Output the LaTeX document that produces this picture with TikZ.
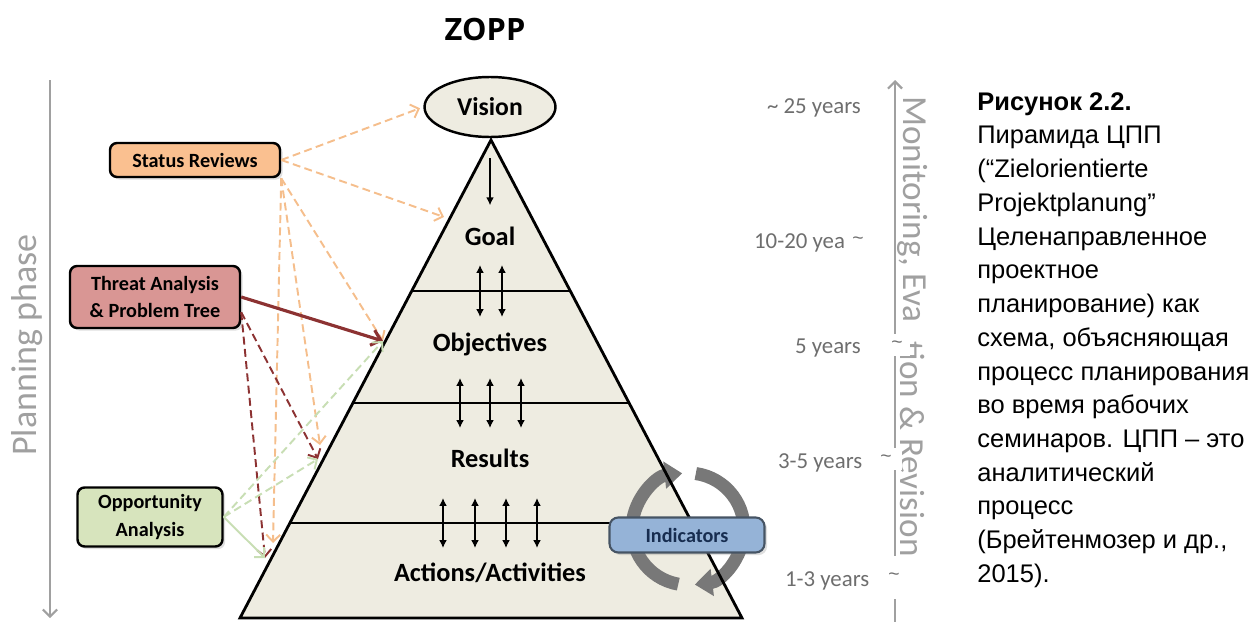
\documentclass[tikz,border=0pt]{standalone}
\usepackage{fontspec}
\setmainfont{Carlito}
\newfontfamily\capfont{Liberation Sans}
\newfontfamily\titlefont{Open Sans}
\usepackage{tikz}
\usetikzlibrary{arrows.meta,calc,shapes.geometric,shadows}

\definecolor{pyrfill}{RGB}{238,236,225}
\definecolor{srfill}{RGB}{250,192,144}
\definecolor{tpfill}{RGB}{217,150,148}
\definecolor{oafill}{RGB}{215,228,189}
\definecolor{indfill}{RGB}{149,179,215}
\definecolor{indline}{RGB}{70,84,100}
\definecolor{indtext}{RGB}{23,45,80}
\definecolor{srline}{RGB}{245,190,140}
\definecolor{tpline}{RGB}{140,50,50}
\definecolor{oaline}{RGB}{200,222,180}
\definecolor{phasegray}{RGB}{160,160,160}
\definecolor{yeargray}{RGB}{110,110,110}
\definecolor{cyc}{RGB}{120,120,120}

\tikzset{
	phasebox/.style={draw=black, line width=1.4pt, rounded corners=4pt, align=center,
		font=\bfseries\fontsize{11.5}{15.5}\selectfont,
		drop shadow={opacity=0.25, shadow xshift=1.5pt, shadow yshift=-1.5pt}},
	level/.style={anchor=base, font=\bfseries\fontsize{15}{16}\selectfont},
	years/.style={text=yeargray, inner sep=1pt, font=\fontsize{13}{15}\selectfont},
	tilde/.style={years, fill=white, inner sep=0pt, font=\capfont\fontsize{11}{13}\selectfont},
	link/.style={line width=1.1pt, dash pattern=on 4.5pt off 2.5pt, -{Straight Barb[length=4pt,width=8pt]}},
	updown/.style={line width=1.2pt, {Latex[length=4.5pt,width=4.5pt]}-{Latex[length=4.5pt,width=4.5pt]}},
}

\begin{document}
\begin{tikzpicture}[x=0.02cm,y=-0.02cm]
	\useasboundingbox (0,0) rectangle (1255,622);

	\node[font=\titlefont\bfseries\fontsize{17.5}{20}\selectfont] (zopp) at (485,30) {ZOPP};

	\coordinate (apex) at (491,140);
	\coordinate (bl) at (240,618);
	\coordinate (br) at (742,618);
	\fill[pyrfill] (apex) -- (bl) -- (br) -- cycle;
	\foreach \y in {291,403,523} {
		\pgfmathsetmacro\lf{(\y-140)/478}
		\draw[line width=1.4pt] ($(apex)!\lf!(bl)$) -- ($(apex)!\lf!(br)$);
	}

	\draw[cyc, line width=7.4pt, -{Triangle[length=10pt,width=15pt]}] (688,529) ++(100:56) arc[start angle=100, end angle=264, radius=56];
	\draw[cyc, line width=7.4pt, -{Triangle[length=10pt,width=15pt]}] (688,529) ++(278:56) arc[start angle=278, end angle=443, radius=56];

	\draw[line width=1.6pt] (apex) -- (bl) -- (br) -- cycle;

	\node[ellipse, draw, fill=pyrfill, line width=1.4pt, minimum width=2.62cm, minimum height=1.2cm,
		font=\bfseries\fontsize{14.6}{16}\selectfont] (vision) at (490,107) {Vision};

	\node[level] (goal) at (490,245) {Goal};
	\node[level] (obj) at (490,351) {Objectives};
	\node[level] (res) at (490,467) {Results};
	\node[level] (act) at (490,581) {Actions/Activities};

	\draw[line width=1.2pt, -{Latex[length=4.5pt,width=4.5pt]}, shorten <=0.4cm, shorten >=0.3cm] (vision.south) -- (goal.north);
	\foreach \x in {480,502}
		\draw[updown] (\x,265) -- (\x,317);
	\foreach \x in {460,490,521}
		\draw[updown] (\x,378) -- (\x,428);
	\foreach \x in {443,475,506,537}
		\draw[updown] (\x,498) -- (\x,548);

	\node[draw=indline, fill=indfill, line width=1.2pt, rounded corners=5pt, minimum width=3.1cm, minimum height=0.7cm,
		text=indtext, font=\bfseries\fontsize{11.5}{13}\selectfont,
		drop shadow={opacity=0.25, shadow xshift=1.5pt, shadow yshift=-1.5pt}] (ind) at (687,535) {Indicators};

	\node[phasebox, fill=srfill, minimum width=3.4cm, minimum height=0.68cm] (sr) at (195,160) {Status Reviews};
	\node[phasebox, fill=tpfill, minimum width=3.4cm, minimum height=1.24cm] (tp) at (155,297) {Threat Analysis\\\& Problem Tree};
	\node[phasebox, fill=oafill, minimum width=2.9cm, minimum height=1.18cm] (oa) at (150,517) {Opportunity\\Analysis};

	\coordinate (goalL) at (444,217);
	\coordinate (objL) at (383,341);
	\coordinate (resA) at (320,445);
	\coordinate (resB) at (318,459);
	\coordinate (actA) at (273,543);
	\coordinate (actB) at (265,558);

	\draw[link, srline, shorten >=2pt] (sr.east) -- (vision.west);
	\draw[link, srline] (sr.east) -- (goalL);
	\foreach \tgt in {objL,resA,actA}
		\draw[link, srline] (sr.south east) -- (\tgt);
	\draw[tpline, line width=1.8pt, -{Straight Barb[length=5pt,width=9pt]}] (tp.east) -- (objL);
	\foreach \tgt in {resB,actB}
		\draw[link, tpline] (tp.-10) -- (\tgt);
	\foreach \tgt in {objL,resB}
		\draw[link, oaline] (oa.east) -- (\tgt);
	\draw[oaline, line width=1.1pt, -{Straight Barb[length=4pt,width=8pt]}] (oa.east) -- (actB);

	\coordinate (ptop) at (50,80);
	\coordinate (pbot) at (50,618);
	\draw[phasegray, line width=1.2pt, -{Straight Barb[length=4pt,width=8pt]}] (ptop) -- (pbot);
	\node[rotate=90, text=phasegray, font=\fontsize{20.5}{22}\selectfont] (plan) at (27,345) {Planning phase};

	\coordinate (mbot) at (895,622);
	\coordinate (mtop) at (895,80);
	\draw[phasegray, line width=1.3pt, -{Straight Barb[length=4pt,width=8pt]}] (mbot) -- (mtop);
	\node[rotate=-90, anchor=west, inner sep=0pt, text=phasegray, font=\fontsize{20}{22}\selectfont] (mon) at (913,96) {Monitoring, Eva};
	\node[rotate=-90, anchor=east, inner sep=0pt, text=phasegray, font=\fontsize{20}{22}\selectfont] (rev) at (913,557) {tion \& Revision};

	\node[years, anchor=base west] (y25) at (765,113) {\textasciitilde\ 25 years};
	\node[years, anchor=base west] (y1020) at (752,248) {10-20 yea};
	\node[tilde, minimum width=0.4cm, minimum height=0.4cm] (t1020) at (858,241) {\textasciitilde};
	\node[years, anchor=base west] (y5) at (793,353) {5 years};
	\node[tilde, minimum width=0.5cm, minimum height=0.44cm] (t5) at (897,345) {\textasciitilde};
	\node[years, anchor=base west] (y35) at (776,468) {3-5 years};
	\node[tilde, minimum width=0.62cm, minimum height=0.44cm] (t35) at (886,459) {\textasciitilde};
	\node[years, anchor=base west] (y13) at (783,586) {1-3 years};
	\node[tilde, minimum width=0.36cm, minimum height=0.86cm] (t13) at (894,577) {\textasciitilde};

	\node[anchor=north west, inner sep=0pt, align=left, font=\capfont\fontsize{14.5}{19.2}\selectfont] (caption) at (977,92)
		{\textbf{Рисунок 2.2.}\\Пирамида ЦПП\\(“Zielorientierte\\Projektplanung”\\Целенаправленное\\проектное\\планирование) как\\схема, объясняющая\\процесс планирования\\во время рабочих\\семинаров. ЦПП – это\\аналитический\\процесс\\(Брейтенмозер и др.,\\2015).};
\end{tikzpicture}
\end{document}
